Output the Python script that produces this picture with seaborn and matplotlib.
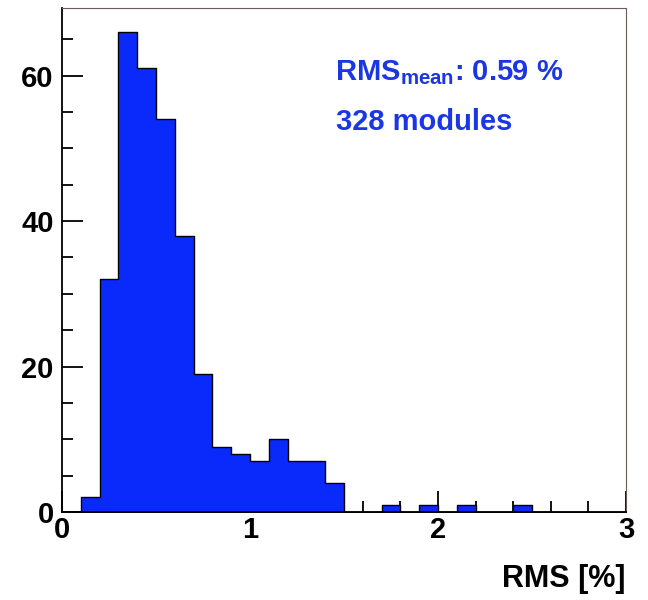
import numpy as np
import matplotlib
matplotlib.use("Agg")
import matplotlib.pyplot as plt
from matplotlib.ticker import MultipleLocator, FixedLocator
import seaborn as sns

# Histogram of per-module RMS values (bin width 0.1 %)
bin_edges = [round(0.1 * i, 1) for i in range(31)]
counts = [0, 2, 32, 66, 61, 54, 38, 19, 9, 8,
          7, 10, 7, 7, 4, 0, 0, 1, 0, 1,
          0, 1, 0, 0, 1, 0, 0, 0, 0, 0]
x_ticks = [0, 1, 2, 3]
y_ticks = [0, 20, 40, 60]
rms_mean = 0.59
n_modules = 328

bin_centers = [(a + b) / 2 for a, b in zip(bin_edges[:-1], bin_edges[1:])]

sns.set_style("ticks")
plt.rcParams["font.family"] = ["Liberation Sans", "DejaVu Sans"]
plt.rcParams["font.weight"] = "bold"
plt.rcParams["text.color"] = "black"
plt.rcParams["xtick.color"] = "black"
plt.rcParams["ytick.color"] = "black"
plt.rcParams["mathtext.fontset"] = "custom"
plt.rcParams["mathtext.rm"] = "Liberation Sans:bold"
plt.rcParams["mathtext.it"] = "Liberation Sans:bold"
plt.rcParams["mathtext.bf"] = "Liberation Sans:bold"

fig = plt.figure(figsize=(6.48, 6.0), dpi=100)
ax = fig.add_axes([0.0957, 0.1467, 0.8703, 0.84])

bar_blue = "#0a2afc"
text_blue = "#1b37e4"

sns.histplot(x=bin_centers, weights=counts, bins=bin_edges, element="step",
             fill=True, color=bar_blue, alpha=1.0, edgecolor="black",
             linewidth=1.0, ax=ax)

ax.set_xlim(0, 3)
ax.set_ylim(0, 69.3)

ax.xaxis.set_major_locator(FixedLocator(x_ticks))
ax.xaxis.set_minor_locator(MultipleLocator(0.2))
ax.yaxis.set_major_locator(FixedLocator(y_ticks))
ax.yaxis.set_minor_locator(MultipleLocator(5))

ax.tick_params(axis="both", which="both", direction="in", top=False, right=False,
               color="black", width=1.3)
ax.tick_params(axis="both", which="major", length=15, labelsize=21)
ax.tick_params(axis="x", which="major", pad=3)
ax.tick_params(axis="y", which="major", pad=6)
ax.tick_params(axis="both", which="minor", length=8)
for lab in ax.get_xticklabels() + ax.get_yticklabels():
    lab.set_fontweight("bold")
    lab.set_color("black")

for side in ("left", "bottom"):
    ax.spines[side].set_linewidth(1.3)
    ax.spines[side].set_color("black")
for side in ("top", "right"):
    ax.spines[side].set_visible(True)
    ax.spines[side].set_linewidth(0.8)
    ax.spines[side].set_color("#6a5a5a")

ax.set_ylabel("")
ax.set_xlabel("RMS [%]", fontsize=22, fontweight="bold", color="black",
              loc="right", labelpad=14)

ax.text(0.484, 0.857, rf"RMS$_{{\mathrm{{mean}}}}$: {rms_mean:.2f} %",
        transform=ax.transAxes, color=text_blue, fontsize=21, fontweight="bold",
        ha="left", va="baseline")
ax.text(0.486, 0.758, f"{n_modules} modules",
        transform=ax.transAxes, color=text_blue, fontsize=21, fontweight="bold",
        ha="left", va="baseline")

fig.savefig("out.png", dpi=100, facecolor="white")
